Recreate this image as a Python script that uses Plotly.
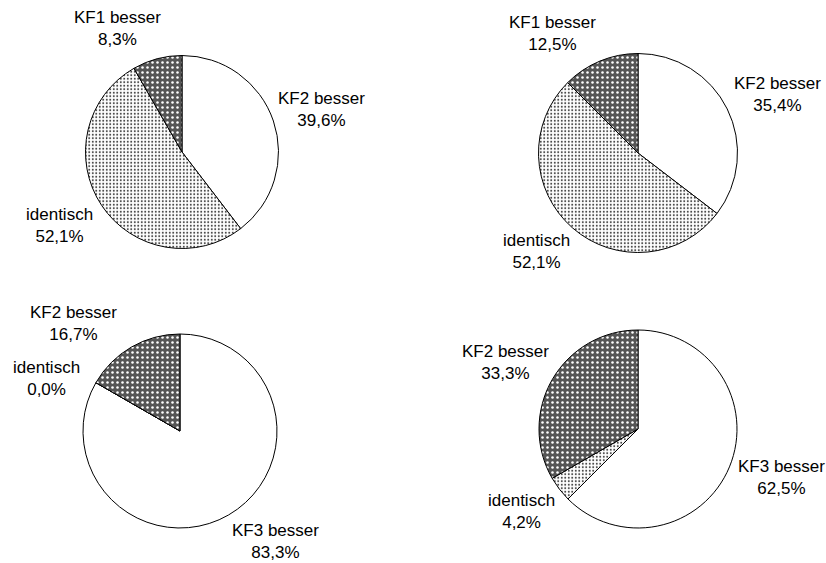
import plotly.graph_objects as go

W, H = 826, 563

# ---- data ----
pie1_labels = ["KF2 besser", "identisch", "KF1 besser"]
pie1_values = [39.6, 52.1, 8.3]
pie2_labels = ["KF2 besser", "identisch", "KF1 besser"]
pie2_values = [35.4, 52.1, 12.5]
pie3_labels = ["KF3 besser", "identisch", "KF2 besser"]
pie3_values = [83.3, 0.0, 16.7]
pie4_labels = ["KF3 besser", "identisch", "KF2 besser"]
pie4_values = [62.5, 4.2, 33.3]

# ---- layout (pixels) ----
centers = [(182, 152, 96.5), (638, 153, 99.5), (180, 431, 97), (638, 429, 99)]
label_pos = [
    [(321, 110), (59, 225), (117, 29)],
    [(777, 95), (536, 252), (552, 33)],
    [(275, 541), (46, 378), (73, 323)],
    [(781, 477), (521, 511), (506, 362)],
]

pies = [(pie1_labels, pie1_values), (pie2_labels, pie2_values),
        (pie3_labels, pie3_values), (pie4_labels, pie4_values)]

white = dict(shape="", bgcolor="white", fgcolor="white")
light = dict(shape=".", bgcolor="white", fgcolor="#444444", size=3.5, solidity=0.25)
dark = dict(shape=".", bgcolor="#555555", fgcolor="#ffffff", size=5, solidity=0.2)

FONT = "Arial, 'Liberation Sans', sans-serif"


def fmt(v):
    return f"{v:.1f}".replace(".", ",") + "%"


fig = go.Figure()
annotations = []
for (labels, values), (cx, cy, r), lpos in zip(pies, centers, label_pos):
    fig.add_trace(go.Pie(
        labels=labels,
        values=values,
        sort=False,
        direction="clockwise",
        rotation=0,
        textinfo="none",
        hoverinfo="label+percent",
        showlegend=False,
        domain=dict(x=[(cx - r) / W, (cx + r) / W],
                    y=[1 - (cy + r) / H, 1 - (cy - r) / H]),
        marker=dict(
            colors=["white", "white", "#555555"],
            line=dict(color="black", width=1),
            pattern=dict(
                shape=[white["shape"], light["shape"], dark["shape"]],
                bgcolor=[white["bgcolor"], light["bgcolor"], dark["bgcolor"]],
                fgcolor=[white["fgcolor"], light["fgcolor"], dark["fgcolor"]],
                size=[4, light["size"], dark["size"]],
                solidity=[0.3, light["solidity"], dark["solidity"]],
            ),
        ),
    ))
    for lab, val, (lx, ly) in zip(labels, values, lpos):
        annotations.append(dict(
            x=lx / W, y=1 - ly / H, xref="paper", yref="paper",
            text=f"{lab}<br>{fmt(val)}", showarrow=False,
            xanchor="center", yanchor="middle", align="center",
            font=dict(family=FONT, size=17, color="black"),
        ))

fig.update_layout(
    width=W, height=H,
    margin=dict(l=0, r=0, t=0, b=0),
    paper_bgcolor="white",
    plot_bgcolor="white",
    annotations=annotations,
    font=dict(family=FONT),
)

fig.write_html("out.html",
               config={"displayModeBar": False},
               post_script="document.body.style.margin='0';document.body.style.padding='0';")
